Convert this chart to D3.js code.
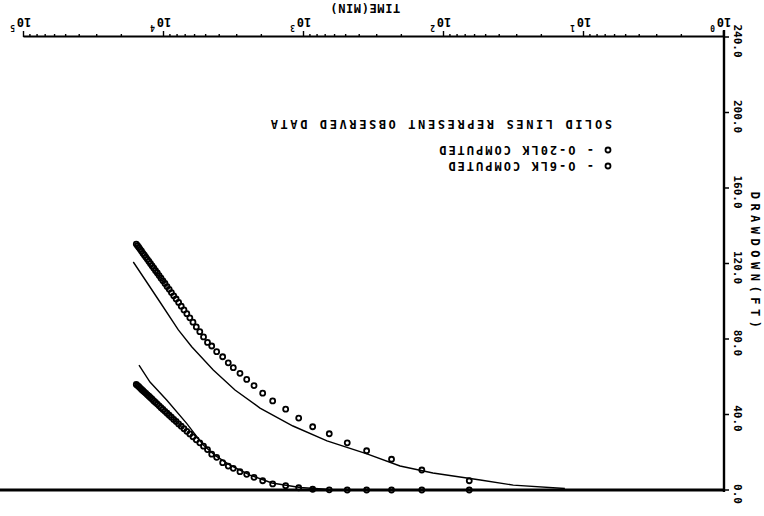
<!DOCTYPE html>
<html>
<head>
<meta charset="utf-8">
<script src="https://cdn.jsdelivr.net/npm/d3@7"></script>
<style>
  body { margin: 0; background: #fff; }
  svg { display: block; background: #fff; }
  text { font-family: "DejaVu Sans Mono", monospace; font-weight: bold; fill: #000; }
</style>
</head>
<body>
<div id="chart"></div>
<script>
// values (the sheet was photographed upside down)
// each record: [time (min), drawdown (ft)]
const computed6LK = [
    [66, 4.9], [144, 10.6], [237, 16.3], [357, 20.8], [491, 25.0], [660, 29.8], [867, 33.5],
    [1091, 38.1], [1352, 42.8], [1674, 47.2], [1973, 51.3], [2275, 55.3], [2566, 58.6],
    [2866, 61.8], [3199, 64.8], [3475, 67.4], [3810, 70.6], [4206, 73.3], [4562, 76.3],
    [4890, 78.2], [5220, 81.1], [5550, 83.9], [5880, 86.4], [6210, 88.9], [6540, 91.2],
    [6870, 93.4], [7200, 95.4], [7530, 97.4], [7860, 99.4], [8190, 101.2], [8520, 102.9],
    [8850, 104.6], [9180, 106.3], [9510, 107.8], [9840, 109.4], [10170, 110.8], [10500, 112.2],
    [10830, 113.6], [11160, 115.0], [11490, 116.2], [11820, 117.5], [12150, 118.7], [12480, 119.9],
    [12810, 121.1], [13140, 122.2], [13470, 123.3], [13800, 124.4], [14130, 125.4], [14460, 126.5],
    [14790, 127.5], [15120, 128.5], [15450, 129.4], [15780, 130.3]
]
const computed20LK = [
    [66, 0], [144, 0], [237, 0], [357, 0], [491, 0], [660, 0.1], [867, 0.4],
    [1091, 1.2], [1352, 2.3], [1674, 3.2], [1973, 4.9], [2275, 6.7], [2566, 8.3],
    [2866, 9.7], [3199, 11.5], [3475, 12.7], [3810, 14.5], [4206, 17.3], [4562, 19.0],
    [4890, 21.4], [5220, 23.2], [5550, 25.0], [5880, 26.6], [6210, 28.2], [6540, 29.7],
    [6870, 31.1], [7200, 32.5], [7530, 33.8], [7860, 35.0], [8190, 36.3], [8520, 37.4],
    [8850, 38.6], [9180, 39.6], [9510, 40.7], [9840, 41.7], [10170, 42.7], [10500, 43.6],
    [10830, 44.6], [11160, 45.5], [11490, 46.4], [11820, 47.2], [12150, 48.1], [12480, 48.9],
    [12810, 49.7], [13140, 50.4], [13470, 51.2], [13800, 51.9], [14130, 52.6], [14460, 53.3],
    [14790, 54.0], [15120, 54.7], [15450, 55.3], [15780, 55.9]
]
const observed6LK = [
    [13.7, 0.8], [32, 2.6], [55, 5.3], [120, 9.0], [206, 12.7], [355, 19.1], [685, 26.0],
    [1199, 33.9], [2061, 43.4], [3111, 53.0], [4446, 63.6], [6340, 75.9], [7900, 84.8],
    [8590, 89.0], [10690, 99.6], [13300, 110.2], [16570, 120.8]
]
const observed20LK = [
    [652, 0.3], [1068, 1.3], [1693, 3.7], [2431, 7.9], [3378, 13.2], [4320, 18.3],
    [5240, 23.8], [6890, 35.3], [9570, 47.7], [12590, 57.2], [15090, 66.2]
]
const zeroLine = [[1, 0], [150000, 0]]

const timeDecades = [0, 1, 2, 3, 4, 5]
const minorSteps = [2, 3, 4, 5, 6, 7, 8, 9]
const drawdownTicks = [0, 40, 80, 120, 160, 200, 240]
const legendRows = ["- O-6LK COMPUTED", "- O-20LK COMPUTED"]
const noteText = "SOLID LINES REPRESENT OBSERVED DATA"

function DrawdownChart({
    target,
    width = 764,
    height = 516,
    left = 40,     // x of 10^0
    right = 740,   // x of 10^5
    top = 26,      // y of 0 ft
    bottom = 479,  // y of 240 ft
} = {}) {
    const svg = d3.select(target)
        .append("svg")
        .attr("width", width)
        .attr("height", height)

    // whole sheet is upside down in the scan
    const g = svg.append("g")
        .attr("transform", `rotate(180 ${width / 2} ${height / 2})`)

    const x = d3.scaleLog().domain([1, 1e5]).range([left, right])
    const y = d3.scaleLinear().domain([0, 240]).range([top, bottom])

    // time axis (bottom)
    const tickVals = []
    timeDecades.forEach(e => {
        tickVals.push(Math.pow(10, e))
        if (e < 5) minorSteps.forEach(m => tickVals.push(m * Math.pow(10, e)))
    })
    const isMajor = d => Math.abs(Math.log10(d) - Math.round(Math.log10(d))) < 1e-9
    const xAxis = g.append("g")
        .attr("transform", `translate(0,${y(240)})`)
        .call(d3.axisBottom(x).tickValues(tickVals).tickSize(3).tickSizeOuter(0).tickFormat(""))
    xAxis.select(".domain").attr("stroke-width", 2.2)
    xAxis.selectAll(".tick line")
        .attr("stroke-width", 1.4)
        .attr("y2", d => isMajor(d) ? 6 : 3)

    timeDecades.forEach(e => {
        const tx = x(Math.pow(10, e))
        g.append("text")
            .attr("x", tx).attr("y", y(240) + 19)
            .attr("text-anchor", "middle")
            .style("font-size", "12px")
            .text("10")
        g.append("text")
            .attr("x", tx + 9).attr("y", y(240) + 12)
            .style("font-size", "8px")
            .text(e)
    })

    g.append("text")
        .attr("x", 399).attr("y", height - 4)
        .attr("text-anchor", "middle")
        .style("font-size", "12px")
        .style("letter-spacing", "0.6px")
        .text("TIME(MIN)")

    // drawdown axis (left)
    g.append("line")
        .attr("x1", x(1)).attr("x2", x(1))
        .attr("y1", y(0) - 2).attr("y2", y(240) + 7)
        .attr("stroke", "#000").attr("stroke-width", 2.4)

    g.selectAll(".ytick")
        .data(drawdownTicks).enter().append("line")
        .attr("x1", x(1) - 5).attr("x2", x(1))
        .attr("y1", d => y(d)).attr("y2", d => y(d))
        .attr("stroke", "#000").attr("stroke-width", 1.5)

    g.selectAll(".ylabel")
        .data(drawdownTicks).enter().append("text")
        .attr("transform", d => `translate(${x(1) - 10},${y(d) - 4}) rotate(-90)`)
        .attr("text-anchor", "middle")
        .style("font-size", "11px")
        .text(d => d.toFixed(1))

    g.append("text")
        .attr("transform", `translate(${x(1) - 27},${height / 2 - 4}) rotate(-90)`)
        .attr("text-anchor", "middle")
        .style("font-size", "12px")
        .style("letter-spacing", "4.5px")
        .text("DRAWDOWN(FT)")

    const line = d3.line().x(d => x(d[0])).y(d => y(d[1]))

    g.append("path").datum(zeroLine)
        .attr("d", line).attr("fill", "none")
        .attr("stroke", "#000").attr("stroke-width", 3)

    ;[observed6LK, observed20LK].forEach(s => {
        g.append("path").datum(s)
            .attr("d", line).attr("fill", "none")
            .attr("stroke", "#000").attr("stroke-width", 1.4)
    })

    ;[computed6LK, computed20LK].forEach(s => {
        g.append("g").selectAll("circle")
            .data(s).enter().append("circle")
            .attr("cx", d => x(d[0])).attr("cy", d => y(d[1]))
            .attr("r", 2.5)
            .attr("fill", "none")
            .attr("stroke", "#000").attr("stroke-width", 1.8)
    })

    // legend / note
    const lx = 152
    legendRows.forEach((txt, i) => {
        const ly = 354 + i * 16
        g.append("circle")
            .attr("cx", lx + 4).attr("cy", ly - 4).attr("r", 2.5)
            .attr("fill", "none").attr("stroke", "#000").attr("stroke-width", 1.8)
        g.append("text")
            .attr("x", lx + 18).attr("y", ly)
            .style("font-size", "12px")
            .style("letter-spacing", "2px")
            .text(txt)
    })
    g.append("text")
        .attr("x", lx).attr("y", 396)
        .style("font-size", "12px")
        .style("letter-spacing", "2.6px")
        .text(noteText)
}

DrawdownChart({
    target: "#chart",
})
</script>
</body>
</html>
